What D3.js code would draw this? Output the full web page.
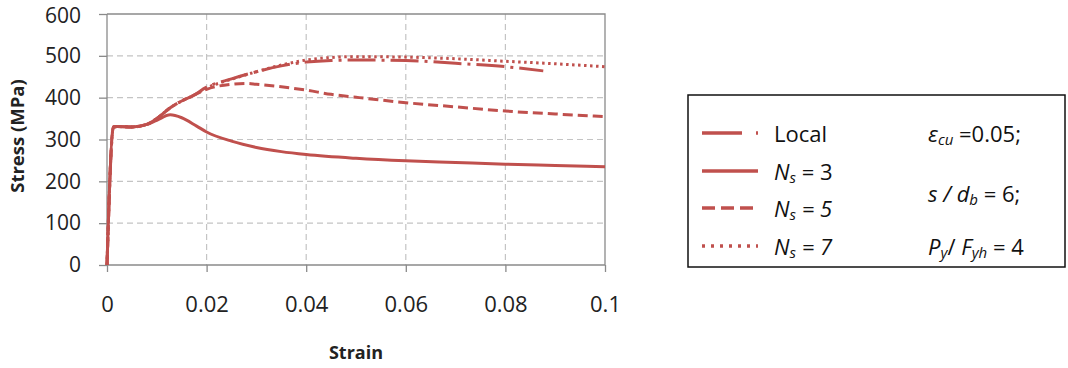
<!DOCTYPE html>
<html><head><meta charset="utf-8">
<script src="https://cdn.jsdelivr.net/npm/d3@7"></script>
<style>body{margin:0;background:#fff;} svg{display:block;font-family:"Open Sans",sans-serif;}</style>
</head><body>
<svg id="c" width="1068" height="368"></svg>
<script>
// Data
const xTicks = [0, 0.02, 0.04, 0.06, 0.08, 0.1];
const xTickLabels = ["0", "0.02", "0.04", "0.06", "0.08", "0.1"];
const yTicks = [0, 100, 200, 300, 400, 500, 600];
const localStrain = [0, 0.0013, 0.002, 0.005, 0.008, 0.010, 0.0127, 0.015, 0.017, 0.02, 0.025, 0.03, 0.035, 0.04, 0.045, 0.05, 0.06, 0.07, 0.08, 0.0876];
const localStress = [0, 330, 331, 330, 336, 350, 376, 392, 403, 425, 445, 462, 476, 485, 489, 490, 489, 482, 474, 464];
const ns3Strain = [0, 0.0013, 0.002, 0.005, 0.008, 0.010, 0.0127, 0.015, 0.018, 0.02, 0.025, 0.03, 0.035, 0.04, 0.05, 0.06, 0.07, 0.08, 0.09, 0.1];
const ns3Stress = [0, 330, 331, 330, 336, 346, 359, 352, 332, 318, 296, 281, 271, 264, 255, 249, 245, 241, 238, 235];
const ns5Strain = [0, 0.0013, 0.002, 0.005, 0.008, 0.010, 0.0127, 0.015, 0.017, 0.02, 0.025, 0.028, 0.03, 0.035, 0.04, 0.045, 0.05, 0.06, 0.07, 0.08, 0.09, 0.1];
const ns5Stress = [0, 330, 331, 330, 336, 350, 376, 392, 403, 420, 432, 434, 432, 426, 418, 408, 401, 388, 378, 368, 361, 355];
const ns7Strain = [0, 0.0013, 0.002, 0.005, 0.008, 0.010, 0.0127, 0.015, 0.017, 0.02, 0.025, 0.03, 0.035, 0.04, 0.045, 0.05, 0.06, 0.07, 0.08, 0.09, 0.1];
const ns7Stress = [0, 330, 331, 330, 336, 350, 376, 392, 403, 423, 444, 462, 478, 490, 496, 498, 497, 493, 487, 481, 474];

const color = "#c0504d";
const svg = d3.select("#c");
const L = 107, R = 605, T = 14, B = 265;
const x = d3.scaleLinear().domain([0, 0.1]).range([L, R]);
const y = d3.scaleLinear().domain([0, 600]).range([B, T]);

// grid
svg.append("g").selectAll("line").data(yTicks.filter(v => v > 0 && v < 600)).join("line")
  .attr("x1", L).attr("x2", R).attr("y1", d => y(d)).attr("y2", d => y(d))
  .attr("stroke", "#c4c4c4").attr("stroke-width", 1.2).attr("stroke-dasharray", "6,4");
svg.append("g").selectAll("line").data(xTicks.filter(v => v > 0 && v < 0.1)).join("line")
  .attr("y1", T).attr("y2", B).attr("x1", d => x(d)).attr("x2", d => x(d))
  .attr("stroke", "#c4c4c4").attr("stroke-width", 1.2).attr("stroke-dasharray", "6,4");
// border top/right
svg.append("path").attr("d", `M${L},${T}H${R}V${B}`).attr("fill", "none").attr("stroke", "#8a8a8a").attr("stroke-width", 1.3);

// axes
const xAxis = d3.axisBottom(x).tickValues(xTicks).tickFormat((d, i) => xTickLabels[i]).tickSize(7).tickPadding(24);
const gx = svg.append("g").attr("transform", `translate(0,${B})`).call(xAxis);
const yAxis = d3.axisLeft(y).tickValues(yTicks).tickSize(8).tickPadding(18);
const gy = svg.append("g").attr("transform", `translate(${L},0)`).call(yAxis);
[gx, gy].forEach(g => {
  g.select(".domain").attr("stroke", "#8a8a8a").attr("stroke-width", 1.3);
  g.selectAll(".tick line").attr("stroke", "#8a8a8a").attr("stroke-width", 1.3);
  g.selectAll("text").attr("font-size", 22).attr("fill", "#222").attr("font-family", "Open Sans, sans-serif");
});
gy.selectAll("text").attr("font-size", 21).attr("dy", d => d === 600 ? "0.4em" : "0.32em");
gy.select(".domain").attr("d", `M0,${B}V${T}`);
gx.select(".domain").attr("d", `M${L},0H${R}`);

// axis titles
svg.append("text").attr("x", 356).attr("y", 359).attr("text-anchor", "middle")
  .attr("font-size", 18).attr("font-weight", "bold").attr("fill", "#222").text("Strain");
svg.append("text").attr("transform", "translate(24,136) rotate(-90)").attr("text-anchor", "middle")
  .attr("font-size", 18.5).attr("font-weight", "bold").attr("fill", "#222").text("Stress (MPa)");

// lines
const series = [
  {xs: ns3Strain, ys: ns3Stress, dash: null},
  {xs: ns5Strain, ys: ns5Stress, dash: "10,5"},
  {xs: ns7Strain, ys: ns7Stress, dash: "2.5,3.5"},
  {xs: localStrain, ys: localStress, dash: "28,6,3,6"}
];
const line = d3.line().x(d => x(d[0])).y(d => y(d[1])).curve(d3.curveMonotoneX);
series.forEach(s => {
  svg.append("path").datum(s.xs.map((v, i) => [v, s.ys[i]]))
    .attr("d", line).attr("fill", "none").attr("stroke", color).attr("stroke-width", 3)
    .attr("stroke-dasharray", s.dash);
});

// legend
svg.append("rect").attr("x", 688).attr("y", 95).attr("width", 377).attr("height", 172)
  .attr("fill", "#fff").attr("stroke", "#111").attr("stroke-width", 1.5);
const legRows = [
  {yy: 133, dash: "40,14,3,20", label: [["Local", "n"]]},
  {yy: 171, dash: null, label: [["N", "i"], ["s", "sub"], [" = 3", "n"]]},
  {yy: 208, dash: "13,6", label: [["N", "i"], ["s", "sub"], [" = 5", "i"]]},
  {yy: 246, dash: "3,6", label: [["N", "i"], ["s", "sub"], [" = 7", "i"]]}
];
function richText(g, xx, yy, parts) {
  const t = g.append("text").attr("x", xx).attr("y", yy).attr("font-size", 22).attr("fill", "#111").attr("dominant-baseline", "central");
  let sub = false;
  parts.forEach(p => {
    const ts = t.append("tspan").text(p[0]);
    if (p[1] === "i") ts.attr("font-style", "italic");
    if (p[1] === "sub") {
      ts.attr("font-style", "italic").attr("font-size", 15);
      if (!sub) { ts.attr("dy", 6); sub = true; }
    } else if (sub) { ts.attr("dy", -6); sub = false; }
  });
  return t;
}
legRows.forEach(r => {
  svg.append("line").attr("x1", 702).attr("x2", 758).attr("y1", r.yy).attr("y2", r.yy)
    .attr("stroke", color).attr("stroke-width", 3.5).attr("stroke-dasharray", r.dash);
  richText(svg, 774, r.yy, r.label);
});
richText(svg, 928, 133, [["ε", "i"], ["cu", "sub"], [" =0.05;", "n"]]);
richText(svg, 928, 193, [["s / d", "i"], ["b", "sub"], [" = 6;", "n"]]);
richText(svg, 928, 246, [["P", "i"], ["y", "sub"], ["/ ", "n"], ["F", "i"], ["yh", "sub"], [" = 4", "n"]]);
</script>
</body></html>
